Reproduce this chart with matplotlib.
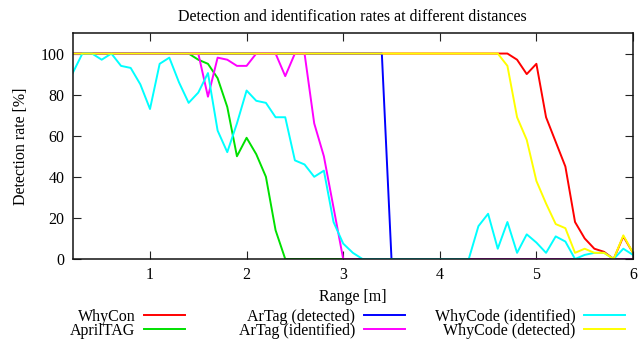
import matplotlib
matplotlib.use("Agg")
import matplotlib.pyplot as plt

# sampled distances [m]
dist = [0.2, 0.3, 0.4, 0.5, 0.6, 0.7, 0.8, 0.9, 1.0, 1.1,
        1.2, 1.3, 1.4, 1.5, 1.6, 1.7, 1.8, 1.9, 2.0, 2.1,
        2.2, 2.3, 2.4, 2.5, 2.6, 2.7, 2.8, 2.9, 3.0, 3.1,
        3.2, 3.3, 3.4, 3.5, 3.6, 3.7, 3.8, 3.9, 4.0, 4.1,
        4.2, 4.3, 4.4, 4.5, 4.6, 4.7, 4.8, 4.9, 5.0, 5.1,
        5.2, 5.3, 5.4, 5.5, 5.6, 5.7, 5.8, 5.9, 6.0]

whycon = [100] * 46 + [97, 90, 95, 69, 57, 45, 18, 10, 5, 3.5, 0, 11, 3]
apriltag = [100] * 13 + [97, 95, 88, 74, 50, 59, 51, 40, 14] + [0] * 37
artag_det = [100] * 33 + [0] * 26
artag_id = ([100] * 14 + [79, 98, 97, 94, 94, 100, 100, 100, 89, 100, 100, 66, 50, 25]
            + [0] * 31)
whycode_id = ([90.5, 100, 100, 97, 100, 94, 93, 85, 73, 95,
               98, 86, 76, 81, 90.5, 62.5, 52, 66, 82, 77,
               76, 69, 69, 48, 46, 40, 43, 18, 7.5, 3]
              + [0] * 12
              + [16, 22, 5, 18, 3, 12, 8, 3, 11, 8.5, 0, 2, 3, 3, 0, 5, 2])
whycode_det = [100] * 45 + [94, 69, 58, 38, 27, 17, 15, 3, 5, 3, 3, 0, 11.5, 3]

series = [
    ("WhyCon", whycon, "#ff0000"),
    ("AprilTAG", apriltag, "#00e000"),
    ("ArTag (detected)", artag_det, "#0000ff"),
    ("ArTag (identified)", artag_id, "#ff00ff"),
    ("WhyCode (identified)", whycode_id, "#00ffff"),
    ("WhyCode (detected)", whycode_det, "#ffff00"),
]

plt.rcParams['font.family'] = ['Liberation Serif', 'DejaVu Serif']
plt.rcParams['font.size'] = 11.5

fig = plt.figure(figsize=(6.39, 3.43), dpi=100)
ax = fig.add_axes([0.1138, 0.2449, 0.8768, 0.6589])

lines = []
for name, vals, col in series:
    ln, = ax.plot(dist, vals, color=col, lw=1.4, label=name)
    lines.append(ln)

ax.set_xlim(0.2, 6)
ax.set_ylim(0, 110)
ax.set_xticks([1, 2, 3, 4, 5, 6])
ax.set_yticks([0, 20, 40, 60, 80, 100])
ax.tick_params(direction='in', length=5.8, width=0.8, top=True, right=True,
               color='#222222')
ax.tick_params(axis='y', pad=6)
ax.tick_params(axis='x', pad=6)
for s in ax.spines.values():
    s.set_linewidth(1.1)
    s.set_color('#111111')

ax.set_title("Detection and identification rates at different distances",
             pad=8.5, fontsize=11.5)
ax.set_xlabel("Range [m]")
ax.set_ylabel("Detection rate [%]")
ax.xaxis.set_label_coords(0.5, -0.132)
ax.yaxis.set_label_coords(-0.078, 0.5)

# gnuplot-like key: three right-aligned columns
col_right = [185, 405, 625]
for i in range(3):
    fig.legend(lines[2 * i:2 * i + 2], [s[0] for s in series[2 * i:2 * i + 2]],
               loc='center right', bbox_to_anchor=(col_right[i] / 639, 0.0554),
               markerfirst=False, frameon=False, borderpad=0, borderaxespad=0,
               handlelength=2.55, handletextpad=0.55, labelspacing=-0.12)

fig.savefig("out.png", dpi=100)
